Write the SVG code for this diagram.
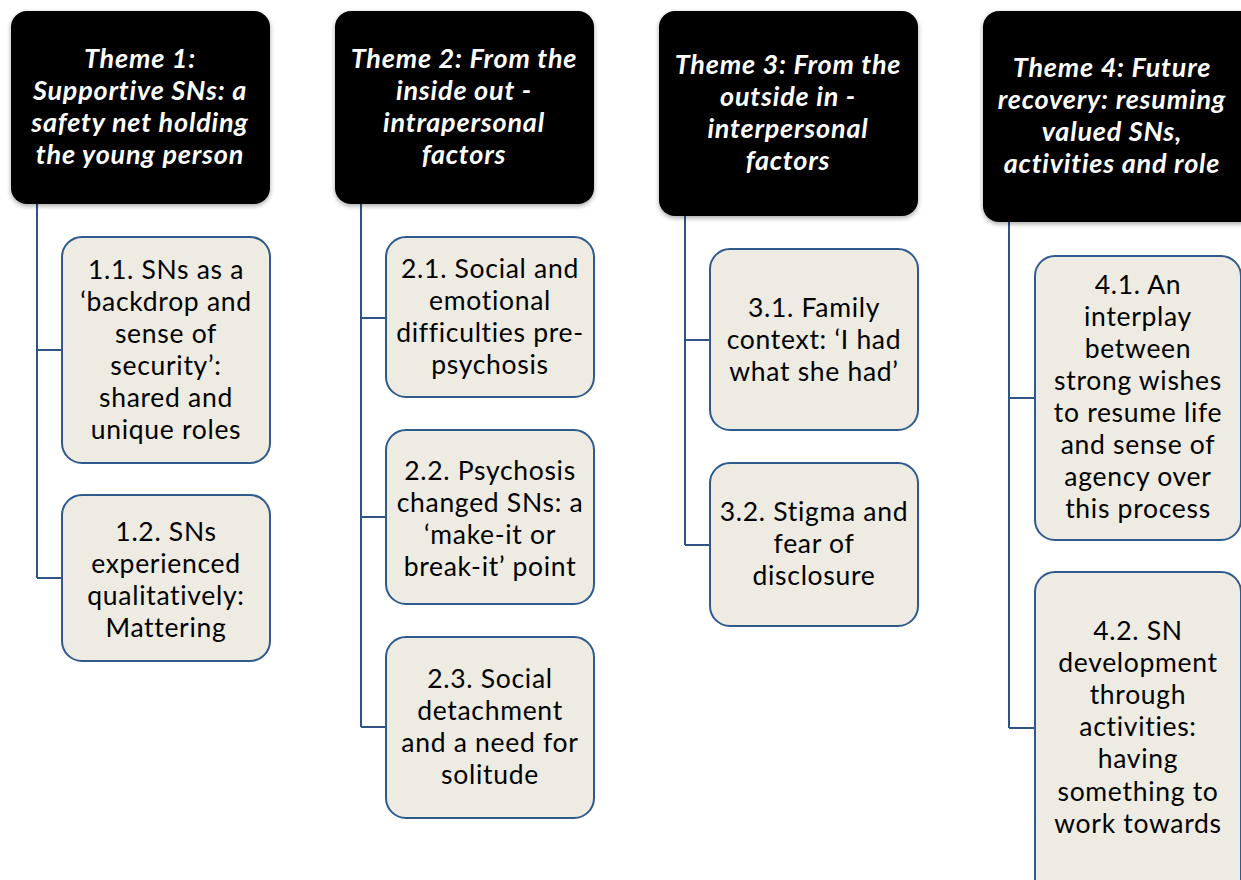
<svg xmlns="http://www.w3.org/2000/svg" width="1241" height="880" viewBox="0 0 1241 880">
<style>
.theme{fill:#000;}
.tt{font-family:Lato,"Open Sans","Liberation Sans",sans-serif;font-size:27px;letter-spacing:0.8px;font-weight:bold;font-style:italic;fill:#fff;text-anchor:middle;}
.sub{fill:#EEEBE2;stroke:#2E5A8E;stroke-width:2;}
.st{font-family:Lato,"Open Sans","Liberation Sans",sans-serif;font-size:26.5px;letter-spacing:0.7px;fill:#000;text-anchor:middle;}
.conn{fill:none;stroke:#2E5384;stroke-width:2;}
</style>
<defs>
<filter id="sh" x="-10%" y="-10%" width="120%" height="130%">
<feGaussianBlur in="SourceAlpha" stdDeviation="2.5"/>
<feOffset dx="0" dy="2" result="b"/>
<feComponentTransfer><feFuncA type="linear" slope="0.35"/></feComponentTransfer>
<feMerge><feMergeNode/><feMergeNode in="SourceGraphic"/></feMerge>
</filter>
</defs>
<rect width="1241" height="880" fill="#fff"/>
<g id="connectors">
<path class="conn" d="M37 204 V578 M37 350 H62 M37 578 H62"/>
<path class="conn" d="M361 204 V727 M361 318 H386 M361 517 H386 M361 727 H386"/>
<path class="conn" d="M685 216 V545 M685 340 H710 M685 545 H710"/>
<path class="conn" d="M1009 222 V728 M1009 398 H1035 M1009 728 H1035"/>
</g>
<g id="theme1">
<rect class="theme" x="11" y="11" width="259" height="193" rx="16" filter="url(#sh)"/>
<text class="tt"><tspan x="140" y="68">Theme 1:</tspan><tspan x="140" y="100">Supportive SNs: a</tspan><tspan x="140" y="132">safety net holding</tspan><tspan x="140" y="164">the young person</tspan></text>
</g>
<g id="theme2">
<rect class="theme" x="335" y="11" width="259" height="193" rx="16" filter="url(#sh)"/>
<text class="tt"><tspan x="464" y="68">Theme 2: From the</tspan><tspan x="464" y="100">inside out -</tspan><tspan x="464" y="132">intrapersonal</tspan><tspan x="464" y="164">factors</tspan></text>
</g>
<g id="theme3">
<rect class="theme" x="659" y="11" width="259" height="205" rx="16" filter="url(#sh)"/>
<text class="tt"><tspan x="788" y="74">Theme 3: From the</tspan><tspan x="788" y="106">outside in -</tspan><tspan x="788" y="138">interpersonal</tspan><tspan x="788" y="170">factors</tspan></text>
</g>
<g id="theme4">
<rect class="theme" x="983" y="11" width="276" height="211" rx="16" filter="url(#sh)"/>
<text class="tt"><tspan x="1112" y="77">Theme 4: Future</tspan><tspan x="1112" y="109">recovery: resuming</tspan><tspan x="1112" y="141">valued SNs,</tspan><tspan x="1112" y="173">activities and role</tspan></text>
</g>
<g id="s11">
<rect class="sub" x="62" y="237" width="208" height="226" rx="20"/>
<text class="st"><tspan x="166" y="279">1.1. SNs as a</tspan><tspan x="166" y="311">‘backdrop and</tspan><tspan x="166" y="343">sense of</tspan><tspan x="166" y="375">security’:</tspan><tspan x="166" y="407">shared and</tspan><tspan x="166" y="439">unique roles</tspan></text>
</g>
<g id="s12">
<rect class="sub" x="62" y="495" width="208" height="166" rx="20"/>
<text class="st"><tspan x="166" y="541">1.2. SNs</tspan><tspan x="166" y="573">experienced</tspan><tspan x="166" y="605">qualitatively:</tspan><tspan x="166" y="637">Mattering</tspan></text>
</g>
<g id="s21">
<rect class="sub" x="386" y="237" width="208" height="160" rx="20"/>
<text class="st"><tspan x="490" y="278">2.1. Social and</tspan><tspan x="490" y="310">emotional</tspan><tspan x="490" y="342">difficulties pre-</tspan><tspan x="490" y="374">psychosis</tspan></text>
</g>
<g id="s22">
<rect class="sub" x="386" y="430" width="208" height="174" rx="20"/>
<text class="st"><tspan x="490" y="480">2.2. Psychosis</tspan><tspan x="490" y="512">changed SNs: a</tspan><tspan x="490" y="544">‘make-it or</tspan><tspan x="490" y="576">break-it’ point</tspan></text>
</g>
<g id="s23">
<rect class="sub" x="386" y="637" width="208" height="181" rx="20"/>
<text class="st"><tspan x="490" y="688">2.3. Social</tspan><tspan x="490" y="720">detachment</tspan><tspan x="490" y="752">and a need for</tspan><tspan x="490" y="784">solitude</tspan></text>
</g>
<g id="s31">
<rect class="sub" x="710" y="249" width="208" height="181" rx="20"/>
<text class="st"><tspan x="814" y="317">3.1. Family</tspan><tspan x="814" y="349">context: ‘I had</tspan><tspan x="814" y="381">what she had’</tspan></text>
</g>
<g id="s32">
<rect class="sub" x="710" y="463" width="208" height="163" rx="20"/>
<text class="st"><tspan x="814" y="521">3.2. Stigma and</tspan><tspan x="814" y="553">fear of</tspan><tspan x="814" y="585">disclosure</tspan></text>
</g>
<g id="s41">
<rect class="sub" x="1035" y="256" width="206" height="284" rx="20"/>
<text class="st"><tspan x="1138" y="294">4.1. An</tspan><tspan x="1138" y="326">interplay</tspan><tspan x="1138" y="358">between</tspan><tspan x="1138" y="390">strong wishes</tspan><tspan x="1138" y="422">to resume life</tspan><tspan x="1138" y="454">and sense of</tspan><tspan x="1138" y="486">agency over</tspan><tspan x="1138" y="518">this process</tspan></text>
</g>
<g id="s42">
<rect class="sub" x="1035" y="572" width="206" height="330" rx="20"/>
<text class="st"><tspan x="1138" y="640">4.2. SN</tspan><tspan x="1138" y="672">development</tspan><tspan x="1138" y="704">through</tspan><tspan x="1138" y="736">activities:</tspan><tspan x="1138" y="768">having</tspan><tspan x="1138" y="801">something to</tspan><tspan x="1138" y="833">work towards</tspan></text>
</g>
</svg>
